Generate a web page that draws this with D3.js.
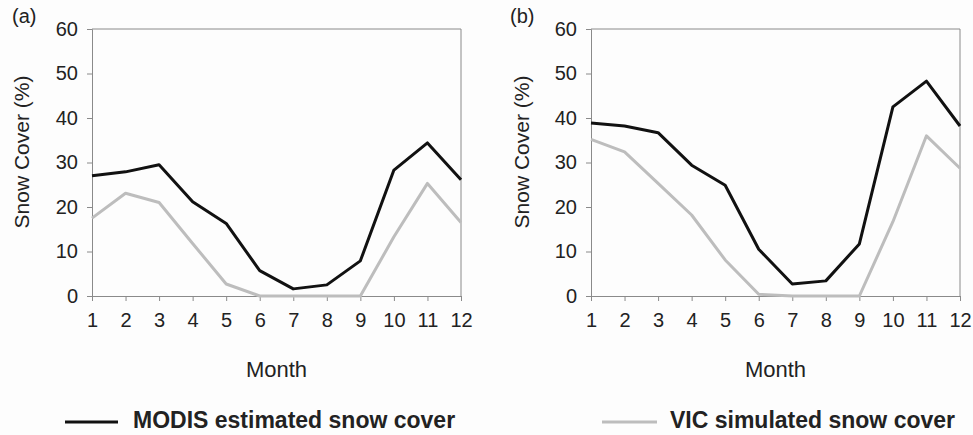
<!DOCTYPE html>
<html><head><meta charset="utf-8">
<script src="https://cdn.jsdelivr.net/npm/d3@7"></script>
<style>
html,body{margin:0;padding:0;background:#fdfdfd;}
svg{display:block;}
text{font-family:"Liberation Sans",Arial,sans-serif;fill:#222;}
</style></head>
<body>
<svg id="chart" width="973" height="435"></svg>
<script>
const months = [1,2,3,4,5,6,7,8,9,10,11,12];
const yTicks = [0,10,20,30,40,50,60];
const modisA = [27.0,27.9,29.5,21.2,16.3,5.7,1.6,2.5,7.9,28.3,34.4,26.1];
const vicA   = [17.5,23.1,21.0,11.8,2.7,0,0,0,0,13.3,25.3,16.5];
const modisB = [38.9,38.2,36.7,29.4,24.9,10.5,2.7,3.4,11.7,42.5,48.3,38.2];
const vicB   = [35.2,32.4,25.3,18.2,8.1,0.4,0,0,0,16.7,36.0,28.7];
const panelLabels = ["(a)","(b)"];
const seriesNames = ["MODIS estimated snow cover","VIC simulated snow cover"];
const seriesColors = ["#111111","#bdbdbd"];

const svg = d3.select("#chart");
const panels = [
  {label: panelLabels[0], left: 92, right: 461, modis: modisA, vic: vicA, titleX: 22, labelX: 12},
  {label: panelLabels[1], left: 591, right: 960, modis: modisB, vic: vicB, titleX: 522, labelX: 510}
];
const plotTop = 29, plotBottom = 296;
const axisColor = "#8a8a8a";

panels.forEach(p => {
  const x = d3.scaleLinear().domain([1,12]).range([p.left, p.right]);
  const y = d3.scaleLinear().domain([0,60]).range([plotBottom, plotTop]);
  const g = svg.append("g");

  g.append("line").attr("x1",p.left).attr("x2",p.right).attr("y1",plotTop).attr("y2",plotTop)
    .attr("stroke",axisColor).attr("stroke-width",1);
  g.append("line").attr("x1",p.right).attr("x2",p.right).attr("y1",plotTop).attr("y2",plotBottom)
    .attr("stroke",axisColor).attr("stroke-width",1);

  const ya = g.append("g").attr("transform",`translate(${p.left},0)`)
    .call(d3.axisLeft(y).tickValues(yTicks).tickSize(5).tickPadding(9).tickFormat(d3.format("d")));
  const xa = g.append("g").attr("transform",`translate(0,${plotBottom})`)
    .call(d3.axisBottom(x).tickValues(months).tickSize(5).tickPadding(12).tickFormat(d3.format("d")));
  [ya,xa].forEach(a => {
    a.select(".domain").attr("stroke",axisColor);
    a.selectAll(".tick line").attr("stroke",axisColor);
    a.selectAll(".tick text").style("font-size","20px").attr("fill","#222");
  });

  const line = d3.line().x((d,i)=>x(months[i])).y(d=>y(d));
  g.append("path").datum(p.vic).attr("d",line).attr("fill","none")
    .attr("stroke",seriesColors[1]).attr("stroke-width",3).attr("stroke-linejoin","round");
  g.append("path").datum(p.modis).attr("d",line).attr("fill","none")
    .attr("stroke",seriesColors[0]).attr("stroke-width",3).attr("stroke-linejoin","round");

  svg.append("text").attr("x",p.labelX).attr("y",23).style("font-size","20px").text(p.label);
  svg.append("text").attr("transform",`translate(${p.titleX+7},152) rotate(-90)`)
    .attr("text-anchor","middle").style("font-size","21px").text("Snow Cover (%)");
  svg.append("text").attr("x",(p.left+p.right)/2).attr("y",377)
    .attr("text-anchor","middle").style("font-size","22px").text("Month");
});

const legend = [
  {x1: 65, x2: 118, tx: 133, name: seriesNames[0], color: seriesColors[0]},
  {x1: 602, x2: 657, tx: 670, name: seriesNames[1], color: seriesColors[1]}
];
legend.forEach(l => {
  svg.append("line").attr("x1",l.x1).attr("x2",l.x2).attr("y1",422).attr("y2",422)
    .attr("stroke",l.color).attr("stroke-width",3);
  svg.append("text").attr("x",l.tx).attr("y",428).style("font-size","23px")
    .style("font-weight","bold").text(l.name);
});
</script>
</body></html>
